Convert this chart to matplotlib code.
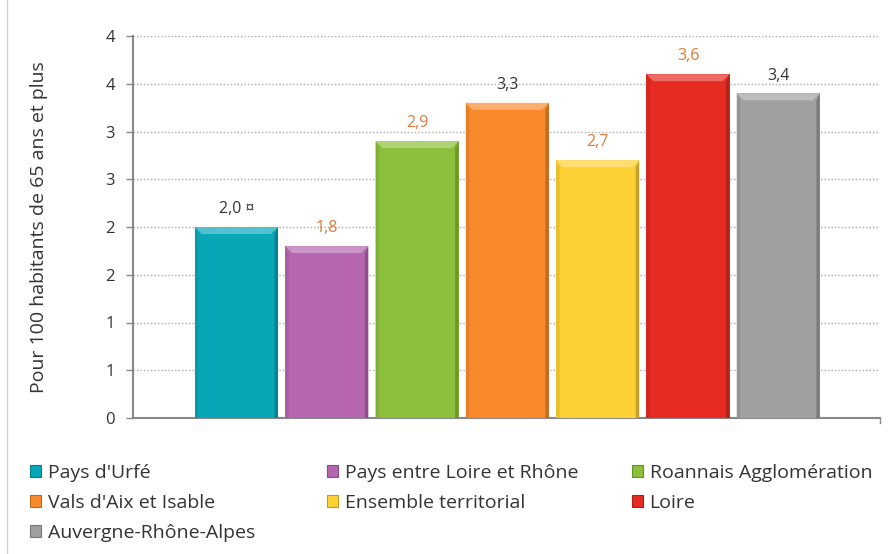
import matplotlib
matplotlib.use("Agg")
import matplotlib.pyplot as plt
from matplotlib.patches import Polygon, Rectangle
from matplotlib.lines import Line2D
import matplotlib.colors as mcolors
import numpy as np

plt.rcParams['font.family'] = ['Open Sans', 'DejaVu Sans']

categories = ["Pays d'Urfé", "Pays entre Loire et Rhône", "Roannais Agglomération",
              "Vals d'Aix et Isable", "Ensemble territorial", "Loire", "Auvergne-Rhône-Alpes"]
values = [2.0, 1.8, 2.9, 3.3, 2.7, 3.6, 3.4]
value_labels = ["2,0 ¤", "1,8", "2,9", "3,3", "2,7", "3,6", "3,4"]
label_colors = ["#333333", "#E07B39", "#E07B39", "#333333", "#E07B39", "#E07B39", "#333333"]
colors = ["#08A7B8", "#B566AE", "#8CBF3B", "#F98A2C", "#FDD035", "#E52B22", "#A0A0A0"]
ytick_vals = [0, 0.5, 1, 1.5, 2, 2.5, 3, 3.5, 4]
ytick_labels = ["0", "1", "1", "2", "2", "3", "3", "4", "4"]
ylabel = "Pour 100 habitants de 65 ans et plus"

W, H = 896, 554
fig = plt.figure(figsize=(W / 100, H / 100), dpi=100)
ax = fig.add_axes([133 / W, 1 - 418 / H, (880 - 133) / W, (418 - 36) / H])

x = np.arange(len(values))
width = 0.92
ax.set_xlim(-1.146, 7.126)
ax.set_ylim(0, 4)

def shade(c, f):
    r, g, b = mcolors.to_rgb(c)
    if f > 0:
        return (r + (1 - r) * f, g + (1 - g) * f, b + (1 - b) * f)
    return (r * (1 + f), g * (1 + f), b * (1 + f))

bars = ax.bar(x, values, width=width, color=colors, zorder=3, linewidth=0)

# bevel effect derived from bar geometry
px_x = (7.126 + 1.146) / (880 - 133)
px_y = 4 / (418 - 36)
bev = 7
for b, c in zip(bars, colors):
    x0 = b.get_x(); x1 = x0 + b.get_width(); h = b.get_height()
    dx = bev * px_x; dy = bev * px_y
    top = Polygon([(x0, h), (x1, h), (x1 - dx, h - dy), (x0 + dx, h - dy)],
                  closed=True, facecolor=shade(c, 0.3), edgecolor='none', zorder=4)
    right = Polygon([(x1, 0), (x1, h), (x1 - dx * 0.5, h - dy), (x1 - dx * 0.5, 0)],
                    closed=True, facecolor=shade(c, -0.22), edgecolor='none', zorder=4)
    left = Polygon([(x0, 0), (x0, h), (x0 + dx * 0.5, h - dy), (x0 + dx * 0.5, 0)],
                   closed=True, facecolor=shade(c, -0.08), edgecolor='none', zorder=4)
    for p in (top, right, left):
        ax.add_patch(p)

for xi, v, lab, lc in zip(x, values, value_labels, label_colors):
    ax.annotate(lab, (xi, v), xytext=(0, 7), textcoords='offset points',
                ha='center', va='bottom', fontsize=11.5, color=lc, zorder=5)

ax.set_yticks(ytick_vals)
ax.set_yticklabels(ytick_labels, fontsize=12, color="#333333")
ax.set_xticks([])
ax.yaxis.grid(True, linestyle=(0, (1, 1.5)), color="#AAAAAA", linewidth=1, zorder=0)
ax.set_axisbelow(True)
for s in ['top', 'right']:
    ax.spines[s].set_visible(False)
ax.spines['left'].set_color('#888888')
ax.spines['left'].set_linewidth(1.5)
ax.spines['bottom'].set_color('#888888')
ax.spines['bottom'].set_linewidth(1.5)
ax.tick_params(axis='y', length=5, width=1, color='#888888', pad=8)
ax.set_ylabel(ylabel, fontsize=14, color="#333333")
ax.yaxis.set_label_coords(-(133 - 48) / (880 - 133), 0.5)

# right-end small tick on bottom axis
ax.plot([1, 1], [0, -5 / (418 - 36)], transform=ax.transAxes, color='#888888', lw=1, clip_on=False)

# frame border on left
fig.add_artist(Line2D([7 / W, 7 / W], [0, 1], color='#D0D0D0', lw=1))

# legend in three columns
def handle(c):
    return Rectangle((0, 0), 1, 1, facecolor=c, edgecolor=shade(c, -0.25), linewidth=0.8)

cols = [[0, 3, 6], [1, 4], [2, 5]]
col_x = [30, 327, 632]
for idxs, cx in zip(cols, col_x):
    leg = fig.legend([handle(colors[i]) for i in idxs], [categories[i] for i in idxs],
                     loc='upper left', bbox_to_anchor=(cx / W, 1 - 464 / H),
                     frameon=False, fontsize=14, handlelength=0.55, handleheight=0.55,
                     handletextpad=0.35, labelspacing=0.62, borderaxespad=0, borderpad=0)
    for t in leg.get_texts():
        t.set_color('#333333')

fig.savefig("out.png", dpi=100, facecolor='white')
